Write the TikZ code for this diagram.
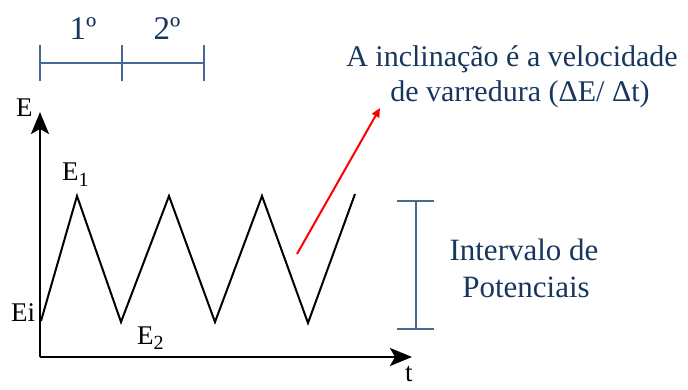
\documentclass[tikz,border=0pt]{standalone}
\usepackage{fontspec}
\setmainfont{Liberation Serif}
\usetikzlibrary{arrows.meta}
\definecolor{navy}{RGB}{23,55,94}
\definecolor{barblue}{RGB}{70,105,148}
\definecolor{arrred}{RGB}{255,0,0}
\tikzset{
  axis/.style={line width=2.6pt,-{Stealth[length=22pt 0 0,width=18pt 0 0,inset=5pt 0 0]}},
  wave/.style={line width=2pt,line join=miter},
  bar/.style={draw=barblue,line width=1.6pt},
  lbl/.style={inner sep=0pt,anchor=base west,font=\fontsize{27}{27}\selectfont},
  bigtxt/.style={inner sep=0pt,anchor=base,text=navy,font=\fontsize{30}{30}\selectfont},
  ordtxt/.style={inner sep=0pt,anchor=base,text=navy,font=\fontsize{33}{33}\selectfont},
  slope/.style={draw=arrred,line width=2pt,-{Triangle[length=9pt,width=8pt]}}
}
\newcommand{\sbs}[1]{\raisebox{-0.2em}{\fontsize{20}{20}\selectfont #1}}
\begin{document}
\begin{tikzpicture}[x=1pt,y=-1pt]
\useasboundingbox (0,0) rectangle (688,390);
% axes
\coordinate (O) at (40,357);
\coordinate (Etop) at (40,112);
\coordinate (Tend) at (412,357);
\draw[axis] (O) -- (Etop);
\draw[axis] (O) -- (Tend);
% wave
\coordinate (s) at (41,321);
\coordinate (p1) at (77,196);
\coordinate (v1) at (121,322);
\coordinate (p2) at (169,196);
\coordinate (v2) at (215,322);
\coordinate (p3) at (262,196);
\coordinate (v3) at (308,323);
\coordinate (w) at (355,194);
\draw[wave] (s) -- (p1) -- (v1) -- (p2) -- (v2) -- (p3) -- (v3) -- (w);
% red slope arrow
\coordinate (ra) at (297,254);
\coordinate (rb) at (380,108);
\draw[slope] (ra) -- (rb);
% top scale
\coordinate (k0) at (40,63);
\coordinate (k1) at (122,63);
\coordinate (k2) at (204,63);
\draw[bar] (k0) -- (k2);
\draw[bar] ([yshift=-18pt]k0) -- ([yshift=18pt]k0);
\draw[bar] ([yshift=-18pt]k1) -- ([yshift=18pt]k1);
\draw[bar] ([yshift=-18pt]k2) -- ([yshift=18pt]k2);
\node[ordtxt] (o1) at (83,40) {1º};
\node[ordtxt] (o2) at (167,40) {2º};
% interval bar
\coordinate (ia) at (416,201);
\coordinate (ib) at (416,329);
\draw[bar] (ia) -- (ib);
\draw[bar] ([xshift=-19pt]ia) -- ([xshift=18pt]ia);
\draw[bar] ([xshift=-19pt]ib) -- ([xshift=18pt]ib);
% labels
\node[lbl] (lE) at (16,117) {E};
\node[lbl] (lE1) at (62,181) {E\sbs{1}};
\node[lbl] (lEi) at (11,321) {Ei};
\node[lbl] (lE2) at (137,344) {E\sbs{2}};
\node[lbl] (lt) at (405,381) {t};
% texts
\node[bigtxt] (t1) at (512,67) {A inclinação é a velocidade};
\node[bigtxt] (t2) at (520,102) {de varredura (ΔE/ Δt)};
\node[bigtxt,font=\fontsize{31}{31}\selectfont] (i1) at (524,261) {Intervalo de};
\node[bigtxt,font=\fontsize{31}{31}\selectfont] (i2) at (526,297) {Potenciais};
\end{tikzpicture}
\end{document}
